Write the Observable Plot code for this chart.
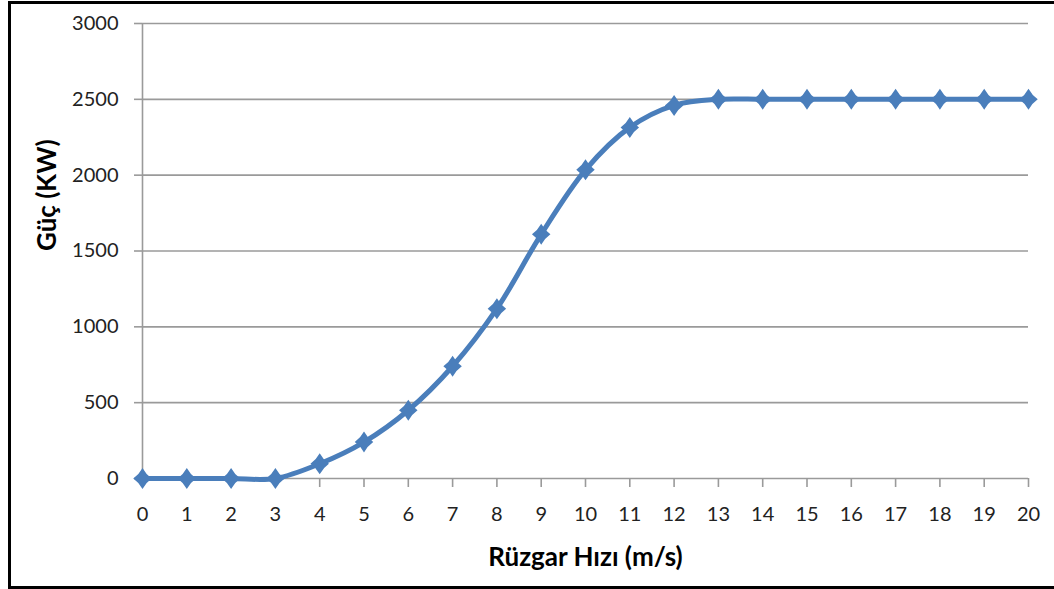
<!DOCTYPE html>
<html>
<head>
<meta charset="utf-8">
<script src="https://cdn.jsdelivr.net/npm/d3@7"></script>
<script src="https://cdn.jsdelivr.net/npm/@observablehq/plot@0.6"></script>
<style>
  html, body { margin: 0; padding: 0; background: #fff; }
  #wrap { position: relative; width: 1054px; height: 589px; overflow: hidden; }
  #frame {
    position: absolute; left: 8px; top: 1px; width: 1060px; height: 582px;
    border-left: 3px solid #000; border-top: 3px solid #000; border-bottom: 3px solid #000;
    pointer-events: none;
  }
</style>
</head>
<body>
<div id="wrap"><div id="frame"></div></div>
<script>
// Wind turbine power curve: output power (kW) against wind speed (m/s)
const windSpeed = [0, 1, 2, 3, 4, 5, 6, 7, 8, 9, 10, 11, 12, 13, 14, 15, 16, 17, 18, 19, 20];
const power     = [0, 0, 0, 0, 97, 240, 450, 740, 1120, 1610, 2035, 2315, 2460, 2500, 2500, 2500, 2500, 2500, 2500, 2500, 2500];

const xTicks = [0, 1, 2, 3, 4, 5, 6, 7, 8, 9, 10, 11, 12, 13, 14, 15, 16, 17, 18, 19, 20];
const yTicks = [0, 500, 1000, 1500, 2000, 2500, 3000];

const xTitle = "Rüzgar Hızı (m/s)";
const yTitle = "Güç (KW)";

const rows = windSpeed.map((v, i) => ({speed: v, power: power[i]}));

// Square-ish diamond marker with slightly pinched sides
const diamondMarker = {
  draw(context, size) {
    const r = Math.sqrt(size / Math.PI);
    const w = r * 0.88;
    context.moveTo(0, -r);
    context.quadraticCurveTo(w * 0.38, -r * 0.38, w, 0);
    context.quadraticCurveTo(w * 0.38, r * 0.38, 0, r);
    context.quadraticCurveTo(-w * 0.38, r * 0.38, -w, 0);
    context.quadraticCurveTo(-w * 0.38, -r * 0.38, 0, -r);
    context.closePath();
  }
};

const blue = "#4a7ebb";
const gridGray = "#9a9a9a";

const chart = Plot.plot({
  width: 1054,
  height: 589,
  marginLeft: 142,
  marginRight: 26,
  marginTop: 23,
  marginBottom: 111,
  style: {fontFamily: "Lato, 'Open Sans', sans-serif", fontSize: "20px", background: "transparent"},
  x: {domain: [0, 20]},
  y: {domain: [0, 3000]},
  marks: [
    Plot.ruleY(yTicks, {stroke: gridGray, strokeWidth: 1.6}),
    Plot.ruleX([0], {stroke: gridGray, strokeWidth: 1.6}),
    Plot.axisY({
      ticks: yTicks, tickSize: 8, tickPadding: 16, label: null, tickFormat: d => String(d),
      stroke: gridGray, strokeWidth: 1.6, fill: "#222", fontSize: 20
    }),
    Plot.axisX({
      ticks: xTicks, tickSize: 9, tickPadding: 19, label: null, tickFormat: d => String(d),
      stroke: gridGray, strokeWidth: 1.6, fill: "#222", fontSize: 20
    }),
    Plot.line(rows, {
      x: "speed", y: "power", curve: "catmull-rom",
      stroke: blue, strokeWidth: 5, strokeLinejoin: "round", strokeLinecap: "round"
    }),
    Plot.dot(rows, {x: "speed", y: "power", symbol: diamondMarker, r: 10.5, fill: blue, stroke: "none"}),
    Plot.text([xTitle], {
      frameAnchor: "bottom", lineAnchor: "bottom", dy: 87,
      fontSize: 26, fontWeight: "bold", fill: "#000"
    }),
    Plot.text([yTitle], {
      frameAnchor: "left", rotate: -90, dx: -95, lineAnchor: "middle",
      fontSize: 26, fontWeight: "bold", fill: "#000"
    })
  ]
});

document.getElementById("wrap").prepend(chart);
</script>
</body>
</html>
